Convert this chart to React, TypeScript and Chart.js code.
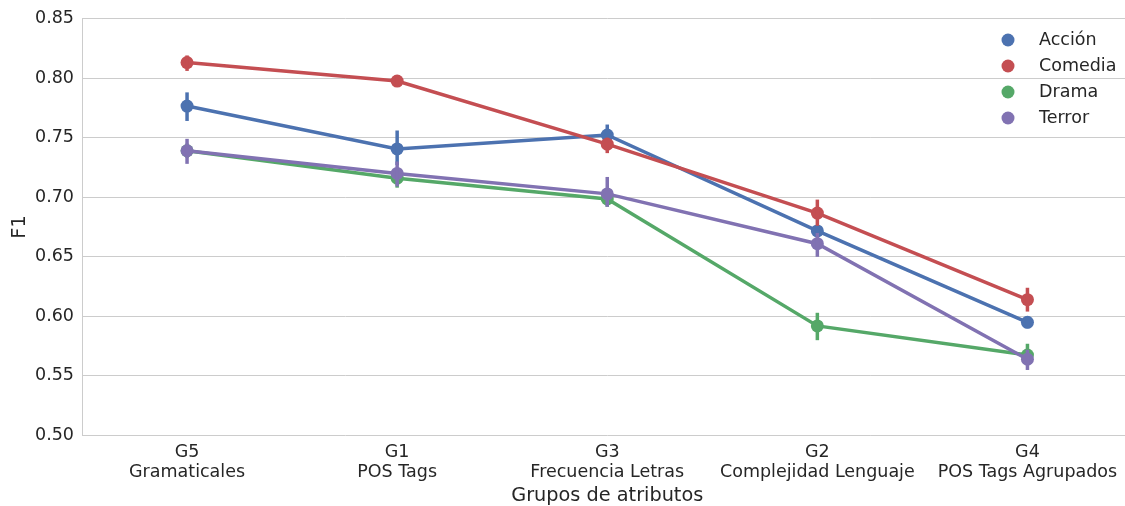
import React, { useEffect, useRef } from "react";
import { Chart, registerables } from "chart.js";

Chart.register(...registerables);

const categories: string[][] = [
  ["G5", "Gramaticales"],
  ["G1", "POS Tags"],
  ["G3", "Frecuencia Letras"],
  ["G2", "Complejidad Lenguaje"],
  ["G4", "POS Tags Agrupados"],
];

const seriesNames = ["Acción", "Comedia", "Drama", "Terror"];
const seriesColors = ["#4C72B0", "#C44E52", "#55A868", "#8172B2"];

const accionValues = [0.7765, 0.7405, 0.7522, 0.6717, 0.595];
const comediaValues = [0.813, 0.7975, 0.7445, 0.6867, 0.614];
const dramaValues = [0.739, 0.716, 0.6985, 0.592, 0.5675];
const terrorValues = [0.739, 0.72, 0.7028, 0.661, 0.564];

const accionLow = [0.764, 0.727, 0.745, 0.667, 0.590];
const accionHigh = [0.788, 0.756, 0.761, 0.676, 0.600];
const comediaLow = [0.806, 0.794, 0.737, 0.676, 0.604];
const comediaHigh = [0.819, 0.801, 0.750, 0.698, 0.624];
const dramaLow = [0.733, 0.708, 0.692, 0.580, 0.561];
const dramaHigh = [0.745, 0.723, 0.705, 0.603, 0.577];
const terrorLow = [0.728, 0.709, 0.692, 0.650, 0.555];
const terrorHigh = [0.749, 0.730, 0.717, 0.670, 0.572];

const yTicks = [0.5, 0.55, 0.6, 0.65, 0.7, 0.75, 0.8, 0.85];

const allValues = [accionValues, comediaValues, dramaValues, terrorValues];
const allLow = [accionLow, comediaLow, dramaLow, terrorLow];
const allHigh = [accionHigh, comediaHigh, dramaHigh, terrorHigh];

const TEXT = "#262626";
const FONT = "'DejaVu Sans', sans-serif";

const errorBarPlugin = {
  id: "errorBars",
  afterDatasetDraw(chart: any, args: any) {
    const i = args.index;
    const ctx = chart.ctx;
    const xs = chart.scales.x;
    const ys = chart.scales.y;
    ctx.save();
    ctx.strokeStyle = seriesColors[i];
    ctx.lineWidth = 3.5;
    ctx.lineCap = "butt";
    for (let j = 0; j < categories.length; j++) {
      const x = xs.getPixelForValue(j);
      ctx.beginPath();
      ctx.moveTo(x, ys.getPixelForValue(allLow[i][j]));
      ctx.lineTo(x, ys.getPixelForValue(allHigh[i][j]));
      ctx.stroke();
    }
    ctx.restore();
  },
};

const legendPlugin = {
  id: "customLegend",
  afterDraw(chart: any) {
    const ctx = chart.ctx;
    ctx.save();
    ctx.font = `17.5px ${FONT}`;
    ctx.textBaseline = "middle";
    ctx.textAlign = "left";
    seriesNames.forEach((name, i) => {
      const y = 40 + i * 26;
      ctx.fillStyle = seriesColors[i];
      ctx.beginPath();
      ctx.arc(1008, y, 6.5, 0, Math.PI * 2);
      ctx.fill();
      ctx.fillStyle = TEXT;
      ctx.fillText(name, 1039, y);
    });
    ctx.restore();
  },
};

export default function App() {
  const ref = useRef<HTMLCanvasElement | null>(null);
  useEffect(() => {
    if (!ref.current) return;
    const chart = new Chart(ref.current, {
      type: "line",
      data: {
        labels: categories as any,
        datasets: seriesNames.map((name, i) => ({
          label: name,
          data: allValues[i],
          borderColor: seriesColors[i],
          backgroundColor: seriesColors[i],
          pointBackgroundColor: seriesColors[i],
          pointBorderColor: seriesColors[i],
          borderWidth: 3.5,
          pointRadius: 6.5,
          pointBorderWidth: 0,
          tension: 0,
          fill: false,
          order: 4 - i,
        })),
      },
      options: {
        animation: false,
        responsive: false,
        maintainAspectRatio: false,
        layout: { padding: { top: 15.5, right: 0, left: 0, bottom: 0 } },
        plugins: {
          legend: { display: false },
          tooltip: { enabled: false },
        },
        scales: {
          x: {
            type: "category",
            offset: true,
            grid: { display: false, drawTicks: false },
            border: { display: false },
            ticks: {
              color: TEXT,
              font: { family: FONT, size: 17.5, lineHeight: 1.15 },
              padding: 7,
              maxRotation: 0,
              autoSkip: false,
            },
            title: {
              display: true,
              text: "Grupos de atributos",
              color: TEXT,
              font: { family: FONT, size: 19.3, lineHeight: 1.0 },
              padding: { top: 6, bottom: 0 },
            },
            afterFit(scale: any) {
              scale.height = 70.5;
              scale.paddingLeft = 0;
              scale.paddingRight = 0;
            },
          },
          y: {
            min: 0.5,
            max: 0.85,
            afterBuildTicks(scale: any) {
              scale.ticks = yTicks.map((v) => ({ value: v }));
            },
            grid: {
              color: "#cccccc",
              lineWidth: 1,
              drawTicks: false,
            },
            border: { display: true, color: "#cccccc", width: 1 },
            ticks: {
              color: TEXT,
              font: { family: FONT, size: 17.5 },
              padding: 8,
              callback: (v: any) => Number(v).toFixed(2),
            },
            title: {
              display: true,
              text: "F1",
              color: TEXT,
              font: { family: FONT, size: 19.3 },
              padding: { top: 8, bottom: 8 },
            },
            afterFit(scale: any) {
              scale.width = 82;
            },
          },
        },
      },
      plugins: [errorBarPlugin, legendPlugin],
    });
    return () => chart.destroy();
  }, []);

  return (
    <div
      style={{
        position: "fixed",
        left: 0,
        top: 0,
        width: 1125,
        height: 506,
        overflow: "hidden",
        background: "#ffffff",
      }}
    >
      <canvas ref={ref} width={1139} height={506} style={{ width: 1139, height: 506, display: "block" }} />
    </div>
  );
}
